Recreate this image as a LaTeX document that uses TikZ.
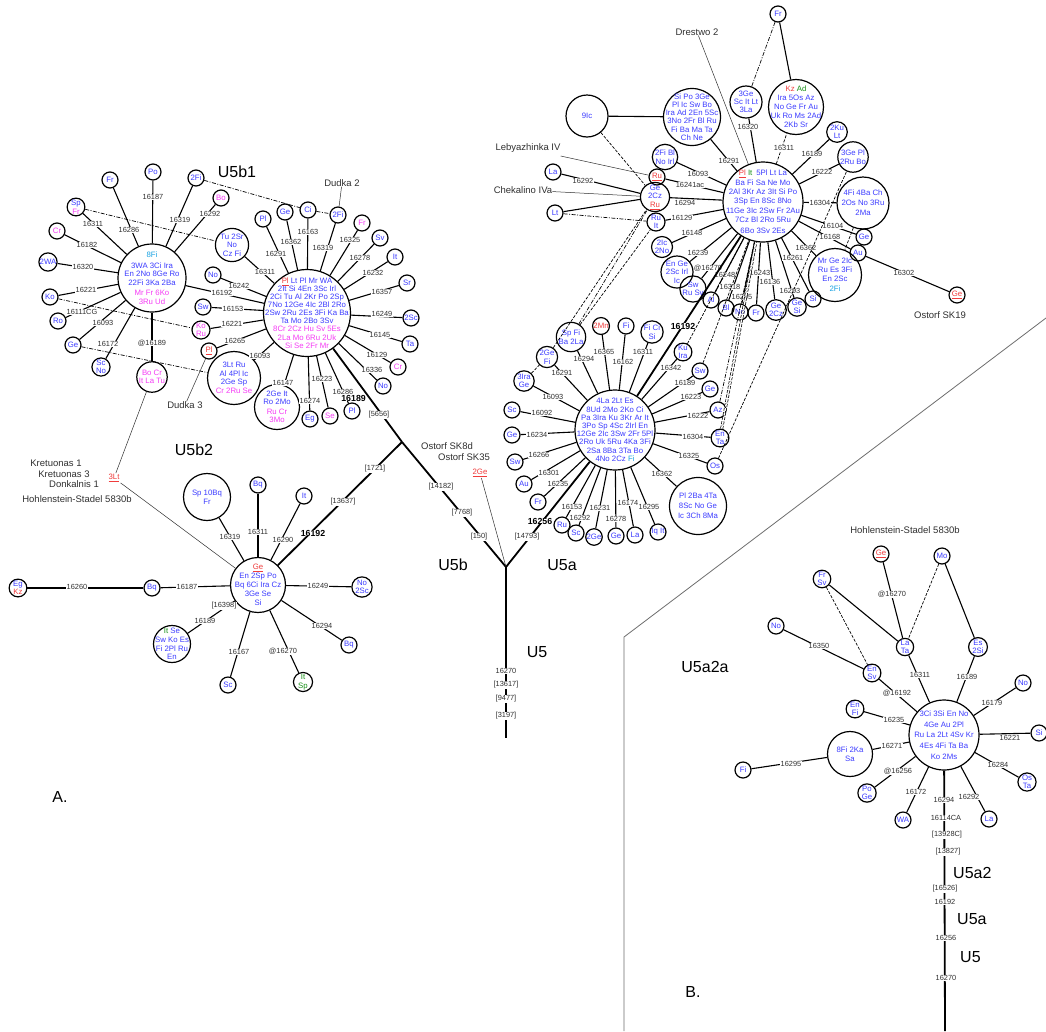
\documentclass[tikz,border=0pt]{standalone}
\usepackage{fontspec}
\setmainfont{Liberation Sans}
\usepackage{xcolor}
\definecolor{blue1}{HTML}{3C3CFF}
\definecolor{mag1}{HTML}{F53CF5}
\definecolor{red1}{HTML}{F03C3C}
\definecolor{green1}{HTML}{178F17}
\definecolor{cyan1}{HTML}{1AA3E3}
\definecolor{ink1}{HTML}{303030}
\definecolor{gray1}{HTML}{6E6E6E}
\usepackage{tikz}

\newcommand{\mgt}[1]{\textcolor{mag1}{#1}}
\newcommand{\redt}[1]{\textcolor{red1}{#1}}
\newcommand{\redu}[1]{\textcolor{red1}{\underline{#1}}}
\newcommand{\grt}[1]{\textcolor{green1}{#1}}
\newcommand{\cyt}[1]{\textcolor{cyan1}{#1}}
\newcommand{\hapfont}{\fontsize{7.8}{8.6}\selectfont}
\newcommand{\mutfont}{\fontsize{7.4}{8}\selectfont}
\newcommand{\bmutfont}{\fontsize{8.8}{9}\selectfont\bfseries}
\newcommand{\sitefont}{\fontsize{9.5}{11}\selectfont}
\newcommand{\cladefont}{\fontsize{16}{18}\selectfont}

\begin{document}
\begin{tikzpicture}[x=1pt, y=-1pt,
  leaf/.style  = {circle, draw, line width=1.2pt, minimum size=16,
                  inner sep=0.3pt, align=center, text=blue1, font=\hapfont},
  ring/.style  = {circle, draw, line width=1.2pt, minimum size=#1,
                  inner sep=0pt},
  htext/.style = {align=center, text=blue1, inner sep=0pt,
                  font=\fontsize{7.8}{#1}\selectfont},
  mut/.style   = {fill=white, text=ink1, font=\mutfont, inner sep=0.3pt},
  bmut/.style  = {fill=white, text=black, font=\bmutfont, inner sep=0.3pt},
  tag/.style   = {text=red1, font=\hapfont, inner sep=1pt},
  site/.style  = {text=ink1, font=\sitefont, inner sep=0pt},
  clade/.style = {text=black, font=\cladefont, inner sep=0pt},
  link/.style  = {line width=1.1pt},
  trunk/.style = {line width=1.8pt},
  ptr/.style   = {line width=0.5pt, draw=ink1},
  dd/.style    = {line width=0.7pt, dash pattern=on 4pt off 1.5pt on 1pt off 1.5pt},
  ds/.style    = {line width=0.7pt, dash pattern=on 3pt off 1.5pt}
]
\path[fill=white] (0,0) rectangle (1046,1031);
\useasboundingbox (0,0) rectangle (1046,1031);

% U5b1 — left star
\node[ring=68]  (h1)   at (152,278) {};
\node[htext=8.5] (h1-t) at (h1) {\cyt{8Fi}\\[2pt]3WA 3Ci Ira\\En 2No 8Ge Ro\\22Fi 3Ka 2Ba\\[2pt]\mgt{Mr Fr 6Ko}\\\mgt{3Ru Ud}};
\node[leaf]               (h1a) at (110,180) {Fr};
\node[leaf]               (h1b) at (153,172) {Po};
\node[leaf]               (h1c) at (196,178) {2Fi};
\node[leaf, text=mag1]    (h1d) at (221,198) {Bo};
\node[leaf]               (h1e) at (76,207)  {Sp\\\mgt{Fr}};
\node[leaf, text=mag1]    (h1f) at (57,231)  {Cr};
\node[leaf]               (h1g) at (48,262)  {2WA};
\node[leaf]               (h1h) at (50,297)  {Ko};
\node[leaf]               (h1i) at (58,321)  {Ro};
\node[leaf]               (h1j) at (73,345)  {Ge};
\node[leaf]               (h1k) at (101,367) {Sc\\No};
\node[leaf, text=mag1]    (h1l) at (152,377) {Bo Cr\\It La Tu};
\draw[link] (h1) -- (h1a) node[mut] at (129,230) {16286};
\draw[link] (h1) -- (h1b) node[mut] at (153,197) {16187};
\draw[link] (h1) -- (h1c) node[mut] at (180,220) {16319};
\draw[link] (h1) -- (h1d) node[mut] at (210,214) {16292};
\draw[link] (h1) -- (h1e) node[mut] at (93,224)  {16311};
\draw[link] (h1) -- (h1f) node[mut] at (87,245)  {16182};
\draw[link] (h1) -- (h1g) node[mut] at (83,267)  {16320};
\draw[link] (h1) -- (h1h) node[mut] at (86,290)  {16221};
\draw[link] (h1) -- (h1i) node[mut] at (82,312)  {16111CG};
\draw[link] (h1) -- (h1j) node[mut] at (103,323) {16093};
\draw[link] (h1) -- (h1k) node[mut] at (108,344) {16172};
\draw[link] (h1) -- (h1l) node[mut] at (152,343) {@16189};

% U5b1 — right star
\node[ring=87]  (h2)   at (307,313) {};
\node[htext=8.1] (h2-t) at (h2) {\redu{Pl} Lt Pl Mr WA\\2It Si 4En 3Sc Irl\\2Ci Tu Al 2Kr Po 2Sp\\7No 12Ge 4Ic 2Bl 2Ro\\2Sw 2Ru 2Es 3Fi Ka Ba\\Ta Mo 2Bo 3Sv\\\mgt{8Cr 2Cz Hu Sv 5Es}\\\mgt{2La Mo 6Ru 2Uk}\\\mgt{Si Se 2Fr Mr}};
\node[leaf]               (h2a) at (263,219) {Pl};
\node[leaf]               (h2b) at (285,212) {Ge};
\node[leaf]               (h2c) at (308,210) {Ci};
\node[leaf]               (h2d) at (338,215) {2Fi};
\node[leaf, text=mag1]    (h2e) at (362,223) {Fr};
\node[leaf]               (h2f) at (380,238) {Sv};
\node[leaf]               (h2g) at (395,257) {It};
\node[leaf]               (h2h) at (407,283) {Sr};
\node[leaf]               (h2i) at (411,318) {2Sc};
\node[leaf]               (h2j) at (410,344) {Ta};
\node[leaf, text=mag1]    (h2k) at (398,367) {Cr};
\node[leaf]               (h2l) at (383,386) {No};
\node[leaf]               (h2m) at (352,411) {Pl};
\node[leaf, text=mag1]    (h2n) at (330,416) {Se};
\node[leaf]               (h2o) at (310,419) {Eg};
\node[ring=45]            (h2p) at (277,407) {};
\node[htext=8.4]        (h2p-t) at (h2p) {2Ge It\\Ro 2Mo\\[1pt]\mgt{Ru Cr}\\\mgt{3Mo}};
\node[ring=53]            (h2q) at (234,378) {};
\node[htext=8.5]        (h2q-t) at (h2q) {3Lt Ru\\Al 4Pl Ic\\2Ge Sp\\\mgt{Cr 2Ru Se}};
\node[leaf]               (h2r) at (209,351) {\redu{Pl}};
\node[leaf, text=mag1]    (h2s) at (201,330) {Ko\\Ru};
\node[leaf]               (h2t) at (203,307) {Sw};
\node[leaf]               (h2u) at (213,275) {No};
\node[leaf]               (h2v) at (232,245) {Tu 2Sr\\No\\Cz Fi};
\draw[link] (h2) -- (h2a) node[mut] at (276,254) {16291};
\draw[link] (h2) -- (h2b) node[mut] at (291,242) {16362};
\draw[link] (h2) -- (h2c) node[mut] at (308,232) {16163};
\draw[link] (h2) -- (h2d) node[mut] at (323,248) {16319};
\draw[link] (h2) -- (h2e) node[mut] at (350,240) {16325};
\draw[link] (h2) -- (h2f) node[mut] at (360,258) {16278};
\draw[link] (h2) -- (h2g) node[mut] at (373,273) {16232};
\draw[link] (h2) -- (h2h) node[mut] at (382,292) {16357};
\draw[link] (h2) -- (h2i) node[mut] at (382,314) {16249};
\draw[link] (h2) -- (h2j) node[mut] at (380,335) {16145};
\draw[link] (h2) -- (h2k) node[mut] at (377,355) {16129};
\draw[link] (h2) -- (h2l) node[mut] at (372,370) {16336};
\draw[link] (h2) -- (h2m) node[mut] at (343,392) {16286};
\draw[link] (h2) -- (h2n) node[mut] at (322,379) {16223};
\draw[link] (h2) -- (h2o) node[mut] at (310,401) {16274};
\draw[link] (h2) -- (h2p) node[mut] at (283,383) {16147};
\draw[link] (h2) -- (h2q) node[mut] at (260,356) {16093};
\draw[link] (h2) -- (h2r) node[mut] at (235,341) {16265};
\draw[link] (h2) -- (h2s) node[mut] at (232,324) {16221};
\draw[link] (h2) -- (h2t) node[mut] at (233,309) {16153};
\draw[link] (h2) -- (h2u) node[mut] at (239,286) {16242};
\draw[link] (h2) -- (h2v) node[mut] at (265,272) {16311};
\draw[link] (h1) -- (h2)  node[mut] at (222,293) {16192};
\draw[dd] (h1c) -- (h2c) -- (h2d);
\draw[dd] (h1e) -- (h2v);
\draw[dd] (h1h) -- (h2s);
\draw[dd] (h1j) -- (h2q);

\node[site]  (dud2)  at (342,183) {Dudka 2};
\node[site]  (dud3)  at (185,405) {Dudka 3};
\node[clade] (cl-b1) at (237,172) {U5b1};
\draw[ptr] (dud2) -- (h2d);
\draw[ptr] (dud3) -- (h2r);

% U5b2
\node[ring=55]  (h3)   at (258,585) {};
\node[htext=8.9] (h3-t) at (h3) {\redu{Ge}\\En 2Sp Po\\Bq 6Ci Ira Cz\\3Ge Se\\Si};
\node[ring=47]            (h3a) at (207,497) {};
\node[htext=8.9]        (h3a-t) at (h3a) {Sp 10Bq\\Fr};
\node[leaf]               (h3b) at (258,485) {Bq};
\node[leaf]               (h3c) at (304,496) {It};
\node[leaf]               (h3d) at (152,588) {Bq};
\node[leaf]               (h3e) at (18,588)  {Eg\\\redt{Kz}};
\node[leaf]               (h3f) at (362,587) {No\\2Sc};
\node[leaf]               (h3g) at (349,645) {Bq};
\node[leaf, text=green1]  (h3h) at (303,682) {It\\Sp};
\node[leaf]               (h3i) at (228,685) {Sc};
\node[ring=37]            (h3j) at (172,644) {};
\node[htext=8.7]        (h3j-t) at (h3j) {\grt{It} Se\\Sw Ko Es\\Fi 2Pl Ru\\En};
\draw[link] (h3) -- (h3a) node[mut] at (230,537) {16319};
\draw[link] (h3) -- (h3b) node[mut] at (258,532) {16311};
\draw[link] (h3) -- (h3c) node[mut] at (283,540) {16290};
\draw[link] (h3) -- (h3d) node[mut] at (187,587) {16187};
\draw[link] (h3d) -- (h3e) node[mut] at (77,587) {16260};
\draw[link] (h3) -- (h3f) node[mut] at (318,586) {16249};
\draw[link] (h3) -- (h3g) node[mut] at (322,626) {16294};
\draw[link] (h3) -- (h3h) node[mut] at (283,651) {@16270};
\draw[link] (h3) -- (h3i) node[mut] at (239,652) {16167};
\draw[link] (h3) -- (h3j) node[mut] at (224,606) {[16398]} node[mut] at (205,621) {16189};

\node[site] (kre1) at (56,463) {Kretuonas 1};
\node[site] (kre3) at (64,474) {Kretuonas 3};
\node[site] (donk) at (74,484) {Donkalnis 1};
\node[site] (hoh1) at (77,499) {Hohlenstein-Stadel 5830b};
\node[tag]  (lt3)  at (114,478) {\underline{3Lt}};
\draw[ptr] (h1l) -- (lt3) -- (h3);
\node[clade] (cl-b2) at (194,450) {U5b2};
\node[clade] (cl-A)  at (60,797)  {A.};

% trunk A
\coordinate (jb)  at (402,442);
\coordinate (j5)  at (506,567);
\coordinate (j5e) at (506,738);
\draw[trunk] (h2) -- (jb) node[bmut, anchor=east] at (367,398) {16189}
                          node[mut] at (379,415) {[5656]};
\draw[trunk] (jb) -- (h3) node[mut] at (375,469) {[1721]}
                          node[mut] at (343,502) {[13637]}
                          node[bmut] at (313,533) {16192};
\draw[trunk] (jb) -- (j5) node[mut] at (441,487) {[14182]}
                          node[mut] at (462,513) {[7768]}
                          node[mut] at (479,537) {[150]};
\draw[trunk] (j5) -- (j5e) node[mut] at (506,671) {16270}
                           node[mut] at (506,685) {[13617]}
                           node[mut] at (506,699) {[9477]}
                           node[mut] at (506,716) {[3197]};
\node[site] (ost8)   at (447,446) {Ostorf SK8d};
\node[site] (ost35)  at (464,457) {Ostorf SK35};
\node[tag]  (ost2ge) at (480,473) {\underline{2Ge}};
\draw[ptr] (ost2ge) -- (j5);
\node[clade] (cl-b) at (453,565) {U5b};
\node[clade] (cl-a) at (562,565) {U5a};
\node[clade] (cl-5) at (537,652) {U5};

% U5a star
\node[ring=80]  (h4)   at (615,430) {};
\node[htext=8.2] (h4-t) at (h4) {4La 2Lt Es\\8Ud 2Mo 2Ko Ci\\Pa 3Ira Ku 3Kr Ar It\\3Po Sp 4Sc 2Irl En\\12Ge 2Ic 3Sw 2Fr 5Pl\\2Ro Uk 5Ru 4Ka 3Fi\\2Sa 8Ba 3Ta Bo\\4No 2Cz \cyt{Fi}};
\node[leaf]               (h4a) at (571,337) {Sp Fi\\Ba 2La};
\node[leaf, text=red1]    (h4b) at (601,326) {2Mn};
\node[leaf]               (h4c) at (626,326) {Fi};
\node[leaf]               (h4d) at (652,332) {Fi Ci\\Si};
\node[leaf]               (h4e) at (683,352) {Ku\\Ira};
\node[leaf]               (h4f) at (700,371) {Sw};
\node[leaf]               (h4g) at (710,389) {Ge};
\node[leaf]               (h4h) at (718,410) {Az};
\node[leaf]               (h4i) at (720,438) {En\\Ta};
\node[leaf]               (h4j) at (715,466) {Os};
\node[ring=57]            (h4k) at (698,506) {};
\node[htext=10.2]       (h4k-t) at (h4k) {Pl 2Ba 4Ta\\8Sc No Ge\\Ic 3Ch 8Ma};
\node[leaf]               (h4l) at (658,532) {Iq It};
\node[leaf]               (h4m) at (635,535) {La};
\node[leaf]               (h4n) at (616,536) {Ge};
\node[leaf]               (h4o) at (594,537) {2Ge};
\node[leaf]               (h4p) at (576,533) {Sc};
\node[leaf]               (h4q) at (562,525) {Ru};
\node[leaf]               (h4r) at (538,502) {Fr};
\node[leaf]               (h4s) at (524,484) {Au};
\node[leaf]               (h4t) at (515,462) {Sw};
\node[leaf]               (h4u) at (512,435) {Ge};
\node[leaf]               (h4v) at (512,410) {Sc};
\node[leaf]               (h4w) at (524,381) {3Ira\\Ge};
\node[leaf]               (h4x) at (547,357) {2Ge\\Fi};
\draw[link] (h4) -- (h4a) node[mut] at (584,359) {16294};
\draw[link] (h4) -- (h4b) node[mut] at (604,352) {16365};
\draw[link] (h4) -- (h4c) node[mut] at (623,362) {16162};
\draw[link] (h4) -- (h4d) node[mut] at (643,352) {16311};
\draw[link] (h4) -- (h4e) node[mut] at (671,368) {16342};
\draw[link] (h4) -- (h4f) node[mut] at (685,383) {16189};
\draw[link] (h4) -- (h4g) node[mut] at (691,397) {16223};
\draw[link] (h4) -- (h4h) node[mut] at (698,416) {16222};
\draw[link] (h4) -- (h4i) node[mut] at (693,437) {16304};
\draw[link] (h4) -- (h4j) node[mut] at (689,456) {16325};
\draw[link] (h4) -- (h4k) node[mut] at (662,474) {16362};
\draw[link] (h4) -- (h4l) node[mut] at (649,507) {16295};
\draw[link] (h4) -- (h4m) node[mut] at (628,503) {16174};
\draw[link] (h4) -- (h4n) node[mut] at (616,519) {16278};
\draw[link] (h4) -- (h4o) node[mut] at (600,508) {16231};
\draw[link] (h4) -- (h4p) node[mut] at (580,518) {16292};
\draw[link] (h4) -- (h4q) node[mut] at (572,507) {16153};
\draw[link] (h4) -- (h4r) node[mut] at (558,484) {16235};
\draw[link] (h4) -- (h4s) node[mut] at (549,473) {16301};
\draw[link] (h4) -- (h4t) node[mut] at (539,455) {16266};
\draw[link] (h4) -- (h4u) node[mut] at (537,435) {16234};
\draw[link] (h4) -- (h4v) node[mut] at (542,413) {16092};
\draw[link] (h4) -- (h4w) node[mut] at (553,397) {16093};
\draw[link] (h4) -- (h4x) node[mut] at (562,373) {16291};
\draw[trunk] (j5) -- (h4) node[mut] at (527,537) {[14793]}
                          node[bmut] at (540,521) {16256};

% U5a1 star
\node[ring=80]  (h5)   at (763,202) {};
\node[htext=9.3] (h5-t) at (h5) {\redu{Pl} \grt{It}\enspace 5Pl Lt La\\Ba Fi Sa Ne Mo\\2Al 3Kr Az 3It Si Po\\3Sp En 8Sc 8No\\11Ge 3Ic 2Sw Fr 2Au\\7Cz Bl 2Ro 5Ru\\[2pt]6Bo 3Sv 2Es};
\node[leaf]               (h5a) at (665,157) {2Fi Bl\\No Irl};
\node[leaf]               (h5b) at (657,177) {\redu{Ru}};
\node[leaf]               (h5c) at (655,197) {Ge\\2Cz\\\redu{Ru}};
\node[leaf]               (h5d) at (656,222) {Ru\\It};
\node[leaf]               (h5e) at (662,247) {2Ic\\2No};
\node[ring=32]            (h5f) at (677,272) {};
\node[htext=8.6]        (h5f-t) at (h5f) {En Ge\\2Sc Irl\\Ic};
\node[leaf]               (h5g) at (693,289) {Sw\\Ru Sv};
\node[leaf]               (h5h) at (711,300) {Al};
\node[leaf]               (h5i) at (726,308) {Bl};
\node[leaf]               (h5j) at (740,312) {No};
\node[leaf]               (h5k) at (756,313) {Fr};
\node[leaf]               (h5l) at (776,310) {Ge\\2Cz};
\node[leaf]               (h5m) at (797,307) {Ge\\Si};
\node[leaf]               (h5n) at (813,299) {Si};
\node[ring=53]            (h5o) at (835,275) {};
\node[htext=8.6]        (h5o-t) at (h5o) {Mr Ge 2Ic\\Ru Es 3Fi\\En 2Sc\\[2pt]\cyt{2Fi}};
\node[leaf]               (h5p) at (858,253) {Au};
\node[leaf]               (h5q) at (864,237) {Ge};
\node[ring=52]            (h5r) at (863,203) {};
\node[htext=10]         (h5r-t) at (h5r) {4Fi 4Ba Ch\\2Os No 3Ru\\2Ma};
\node[leaf]               (h5s) at (853,157) {3Ge Pl\\2Ru Bo};
\node[leaf]               (h5t) at (837,132) {2Ku\\Lt};
\node[ring=55]            (h5u) at (796,107) {};
\node[htext=8.9]        (h5u-t) at (h5u) {\redt{Kz} \grt{Ad}\\Ira 5Os Az\\No Ge Fr Au\\Uk Ro Ms 2Ad\\2Kb Sr};
\node[ring=32]            (h5v) at (746,102) {};
\node[htext=8.3]        (h5v-t) at (h5v) {3Ge\\Sc It Lt\\3La};
\node[ring=57]            (h5w) at (692,117) {};
\node[htext=8.3]        (h5w-t) at (h5w) {Si Po 3Ge\\Pl Ic Sw Bo\\Ira Ad 2En 5Sc\\3No 2Fr Bl Ru\\Fi Ba Ma Ta\\Ch Ne};
\node[ring=42]            (h5x) at (587,116) {};
\node[htext=8.3]        (h5x-t) at (h5x) {9Ic};
\node[leaf]               (h5y) at (778,14)  {Fr};
\node[leaf]               (h5z) at (553,172) {La};
\node[leaf]              (h5aa) at (555,213) {Lt};
\node[leaf]              (h5ab) at (957,295) {\redu{Ge}};
\draw[link] (h5) -- (h5a) node[mut] at (698,174) {16093};
\draw[link] (h5) -- (h5b) node[mut] at (690,185) {16241ac};
\draw[link] (h5) -- (h5c) node[mut] at (685,203) {16294};
\draw[link] (h5) -- (h5d) node[mut] at (682,218) {16129};
\draw[link] (h5) -- (h5e) node[mut] at (692,233) {16148};
\draw[link] (h5) -- (h5f) node[mut] at (698,253) {16239};
\draw[link] (h5) -- (h5g) node[mut] at (708,268) {@16270};
\draw[link] (h5) -- (h5h) node[mut] at (725,275) {16248};
\draw[link] (h5) -- (h5i) node[mut] at (730,287) {16318};
\draw[link] (h5) -- (h5j) node[mut] at (742,297) {16295};
\draw[link] (h5) -- (h5k) node[mut] at (760,273) {16243};
\draw[link] (h5) -- (h5l) node[mut] at (770,282) {16136};
\draw[link] (h5) -- (h5m) node[mut] at (790,291) {16293};
\draw[link] (h5) -- (h5n) node[mut] at (793,258) {16261};
\draw[link] (h5) -- (h5o) node[mut] at (806,248) {16362};
\draw[link] (h5) -- (h5p) node[mut] at (830,237) {16168};
\draw[link] (h5) -- (h5q) node[mut] at (833,226) {16104};
\draw[link] (h5) -- (h5r) node[mut] at (820,203) {16304};
\draw[link] (h5) -- (h5s) node[mut] at (822,172) {16222};
\draw[link] (h5) -- (h5t) node[mut] at (812,154) {16189};
\draw[ds]   (h5) -- (h5u) node[mut] at (784,148) {16311};
\draw[link] (h5) -- (h5v) node[mut] at (748,127) {16320};
\draw[link] (h5) -- (h5w) node[mut] at (729,161) {16291};
\draw[link] (h5x) -- (h5w);
\draw[link] (h5y) -- (h5u);
\draw[link] (h5z) -- (h5c) node[mut] at (583,181) {16292};
\draw[link] (h5aa) -- (h5c);
\draw[link] (h5p) -- (h5ab) node[mut] at (904,273) {16302};
\draw[trunk] (h4) -- (h5) node[bmut] at (683,326) {16192};
\draw[dd] (h5y) -- (h5v);
\draw[ds] (h5x) -- (h5c);
\draw[dd] (h5aa) -- (h5d);
\draw[ds] (h4w) -- (h4x);
\draw[ds] (h4x) -- (h5c);
\draw[dd] (h4a) -- (h5c);
\draw[ds] (h4a) -- (h5d);
\draw[ds] (h4e) -- (h5);
\draw[ds] (h4f) -- (h5);
\draw[dd] (h4h) -- (h5);
\draw[ds, double, double distance=1.5pt] (h4i) -- (h5);
\draw[ds] (h4j) -- (h5s);
\draw[ds] (h5r) -- (h5o);

\node[site] (dres)  at (697,32)  {Drestwo 2};
\node[site] (leb)   at (528,148) {Lebyazhinka IV};
\node[site] (chek)  at (523,190) {Chekalino IVa};
\node[site] (ost19) at (940,315) {Ostorf SK19};
\draw[ptr] (dres) -- (h5);
\draw[ptr] ([yshift=-8pt]leb.east) -- (h5b);
\draw[ptr] (chek) -- (h5c);

% panel B frame
\draw[line width=0.8pt, gray1] (1046,318) -- (624,637) -- (624,1031);

% U5a2a star
\node[ring=70]  (h6)   at (944,735) {};
\node[htext=10.6] (h6-t) at (h6) {3Ci 3Si En No\\4Ge Au 2Pl\\Ru La 2Lt 4Sv Kr\\4Es 4Fi Ta Ba\\Ko 2Ms};
\node[leaf]               (h6a) at (905,647) {La\\Ta};
\node[leaf]               (h6b) at (978,647) {Es\\2Si};
\node[leaf]               (h6c) at (942,556) {Mo};
\node[leaf]               (h6d) at (881,554) {\redu{Ge}};
\node[leaf]               (h6e) at (822,579) {Fr\\Sv};
\node[leaf]               (h6f) at (776,626) {No};
\node[leaf]               (h6g) at (872,673) {En\\Sv};
\node[leaf]               (h6h) at (855,709) {En\\Fi};
\node[ring=45]            (h6i) at (850,754) {};
\node[htext=9.5]        (h6i-t) at (h6i) {8Fi 2Ka\\Sa};
\node[leaf]               (h6j) at (743,770) {Fi};
\node[leaf]               (h6k) at (867,793) {Po\\Ge};
\node[leaf]               (h6l) at (903,820) {WA};
\node[leaf]               (h6m) at (989,819) {La};
\node[leaf]               (h6n) at (1027,782) {Os\\Ta};
\node[leaf]               (h6o) at (1039,733) {Si};
\node[leaf]               (h6p) at (1023,683) {No};
\draw[link] (h6) -- (h6a) node[mut] at (920,675) {16311};
\draw[link] (h6) -- (h6b) node[mut] at (967,677) {16189};
\draw[link] (h6) -- (h6g) node[mut] at (897,693) {@16192};
\draw[link] (h6) -- (h6h) node[mut] at (894,720) {16235};
\draw[link] (h6) -- (h6i) node[mut] at (892,746) {16271};
\draw[link] (h6) -- (h6k) node[mut] at (898,771) {@16256};
\draw[link] (h6) -- (h6l) node[mut] at (916,792) {16172};
\draw[link] (h6) -- (h6m) node[mut] at (969,797) {16292};
\draw[link] (h6) -- (h6n) node[mut] at (998,765) {16284};
\draw[link] (h6) -- (h6o) node[mut] at (1010,738) {16221};
\draw[link] (h6) -- (h6p) node[mut] at (992,703) {16179};
\draw[link] (h6d) -- (h6a) node[mut] at (892,594) {@16270};
\draw[link] (h6c) -- (h6b);
\draw[link] (h6e) -- (h6a);
\draw[link] (h6f) -- (h6g) node[mut] at (819,646) {16350};
\draw[link] (h6j) -- (h6i) node[mut] at (791,764) {16295};
\draw[ds] (h6c) -- (h6a);
\draw[ds] (h6e) -- (h6g);

\coordinate (bend) at (945,1031);
\draw[trunk] (h6) -- (bend) node[mut] at (944,800) {16294}
                            node[mut] at (946,818) {16114CA}
                            node[mut] at (947,835) {[13928C]}
                            node[mut] at (948,852) {[13827]}
                            node[mut] at (945,889) {[16526]}
                            node[mut] at (945,902) {16192}
                            node[mut] at (946,938) {16256}
                            node[mut] at (946,978) {16270};
\node[site] (hoh2) at (905,530) {Hohlenstein-Stadel 5830b};
\node[clade] (cl-2a) at (705,667) {U5a2a};
\node[clade] (cl-B)  at (693,992) {B.};
\node[clade, anchor=west] (cl-a2) at (953,873) {U5a2};
\node[clade, anchor=west] (cl-ab) at (957,919) {U5a};
\node[clade, anchor=west] (cl-5b) at (960,957) {U5};

\end{tikzpicture}
\end{document}
